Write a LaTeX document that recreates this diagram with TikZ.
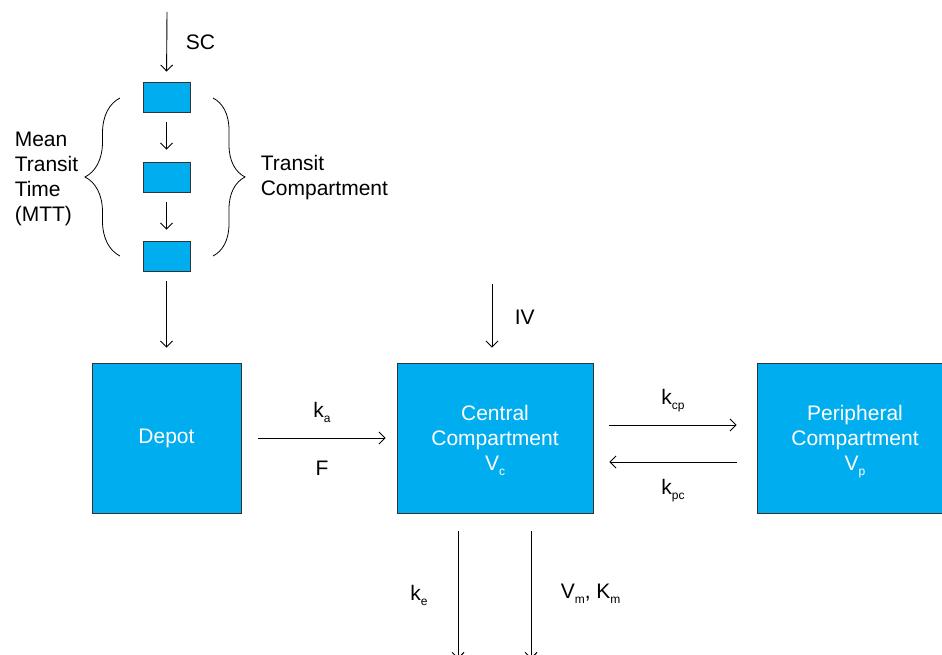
\documentclass[tikz,border=0pt]{standalone}
\usepackage{fontspec}
\setmainfont{Liberation Sans}
\usetikzlibrary{arrows.meta,decorations.pathreplacing}
\definecolor{cmtblue}{HTML}{00AEEF}
\newcommand{\lowsub}[1]{\raisebox{-5pt}[0pt][0pt]{\fontsize{12}{12}\selectfont #1}}
\begin{document}
\begin{tikzpicture}[x=1pt, y=-1pt, line width=0.9pt,
		font=\fontsize{21}{25}\selectfont,
		flow/.style={-{Straight Barb[length=6pt,width=12pt]}},
		cmt/.style={rectangle, fill=cmtblue, draw=black!80, line width=0.8pt, text=white, align=center, inner sep=0pt},
		transit/.style={cmt, minimum width=47pt, minimum height=30pt},
		bigcmt/.style={cmt, minimum height=150pt},
		curly/.style={decorate, decoration={brace, amplitude=#1}, line width=0.8pt}]
		\useasboundingbox (0,0) rectangle (942,655);

		% transit chain
		\node[transit](tr1) at (166.5,97){};
		\node[transit](tr2) at (166.5,177){};
		\node[transit](tr3) at (166.5,256){};
		\coordinate (scin) at (167,12);
		\draw [flow, shorten >=10pt] (scin) -- (tr1.north);
		\draw [flow, shorten <=10pt, shorten >=12pt] (tr1.south) -- (tr2.north);
		\draw [flow, shorten <=10pt, shorten >=11pt] (tr2.south) -- (tr3.north);
		\node[anchor=west](sclab) at (182,42){SC};

		% braces
		\draw [curly=35pt] (120,256) -- (120,98);
		\draw [curly=32pt] (213,98) -- (213,256);
		\node[anchor=west, align=left](mtt) at (11,179){Mean\\Transit\\Time\\(MTT)};
		\node[anchor=west, align=left](trlab) at (257,178){Transit\\Compartment};

		% main compartments
		\node[bigcmt, minimum width=149pt](depot) at (166.5,438){Depot};
		\node[bigcmt, minimum width=196pt](central) at (495,438){Central\\Compartment\\V\lowsub{c}};
		\node[bigcmt, minimum width=196pt](periph) at (855,438){Peripheral\\Compartment\\V\lowsub{p}};

		\draw [flow, shorten <=10pt, shorten >=15pt] (tr3.south) -- (depot.north);

		\coordinate (ivin) at (492,284);
		\draw [flow, shorten >=15pt] (ivin) -- (ivin |- central.north);
		\node[anchor=west](ivlab) at (511,317){IV};

		\draw [flow, shorten <=17pt, shorten >=11pt] (depot.east) -- (central.west);
		\node(kalab) at (322,410){k\lowsub{a}};
		\node(flab) at (322,468){F};

		\draw [flow, shorten <=16pt, shorten >=20pt] ([yshift=13pt]central.east) -- ([yshift=13pt]periph.west);
		\draw [flow, shorten <=20pt, shorten >=16pt] ([yshift=-24pt]periph.west) -- ([yshift=-24pt]central.east);
		\node(kcplab) at (673,397){k\lowsub{cp}};
		\node(kpclab) at (673,487){k\lowsub{pc}};

		% elimination
		\coordinate (keout) at (458,659);
		\coordinate (vmout) at (531,659);
		\draw [flow, shorten <=18pt] (keout |- central.south) -- (keout);
		\draw [flow, shorten <=18pt] (vmout |- central.south) -- (vmout);
		\node(kelab) at (419,593){k\lowsub{e}};
		\node[anchor=west](vmlab) at (557,593){V\lowsub{m}, K\lowsub{m}};
\end{tikzpicture}
\end{document}
